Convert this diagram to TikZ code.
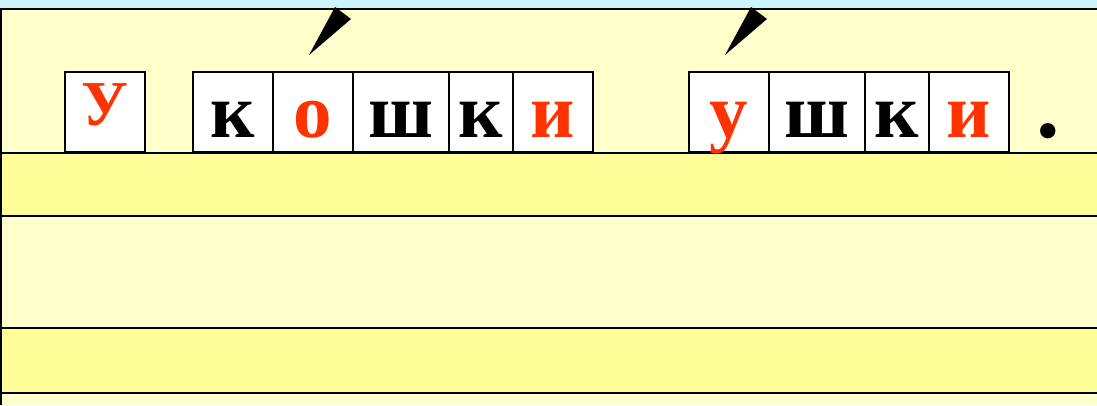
\documentclass[tikz,border=0pt]{standalone}
\usepackage{fontspec}
\setmainfont{Liberation Serif}
\definecolor{skyband}{HTML}{CCF5FF}
\definecolor{paleyel}{HTML}{FFFFCC}
\definecolor{deepyel}{HTML}{FFFF99}
\definecolor{redlet}{HTML}{FF3300}
\begin{document}
\begin{tikzpicture}[x=1pt,y=-1pt,
  rule/.style={line width=2pt,black},
  cell/.style={draw=black,line width=2pt,fill=white,rectangle,inner sep=0pt,minimum height=80pt,anchor=south west},
  big/.style={font=\bfseries\fontsize{77}{77}\selectfont,inner sep=0pt,anchor=base},
  redl/.style={big,text=redlet},
  blackl/.style={big,text=black},
  stress/.style={fill=black,draw=none}]
\useasboundingbox (0,0) rectangle (1097,405);
% backgrounds
\fill[skyband] (0,0) rectangle (1097,9);
\fill[paleyel] (0,9) rectangle (1097,405);
\fill[deepyel] (0,153) rectangle (1097,216);
\fill[deepyel] (0,328) rectangle (1097,393);
% stress marks
\fill[stress] (309,55) -- (335,7) -- (351,19) -- cycle;
\fill[stress] (725,55) -- (751,7) -- (767,19) -- cycle;
% rules
\draw[rule] (0,9) -- (1097,9);
\draw[rule] (1,9) -- (1,405);
\draw[rule] (0,153) -- (1097,153);
\draw[rule] (0,216) -- (1097,216);
\draw[rule] (0,328) -- (1097,328);
\draw[rule] (0,393) -- (1097,393);
% cells
\node[cell,minimum width=80pt] (b1) at (64,153) {};
\node[cell,minimum width=80pt] (b2) at (192,153) {};
\node[cell,minimum width=80pt] (b3) at (272,153) {};
\node[cell,minimum width=96pt] (b4) at (352,153) {};
\node[cell,minimum width=64pt] (b5) at (448,153) {};
\node[cell,minimum width=80pt] (b6) at (512,153) {};
\node[cell,minimum width=80pt] (b7) at (688,153) {};
\node[cell,minimum width=96pt] (b8) at (768,153) {};
\node[cell,minimum width=64pt] (b9) at (864,153) {};
\node[cell,minimum width=80pt] (b10) at (928,153) {};
% letters
\coordinate (base) at (0,137);
\node[redl,font=\bfseries\fontsize{64}{64}\selectfont] (l1) at (b1.center |- 0,125) {У};
\node[blackl] (l2) at (b2.center |- base) {к};
\node[redl] (l3) at (b3.center |- base) {о};
\node[blackl] (l4) at (b4.center |- base) {ш};
\node[blackl] (l5) at (b5.center |- base) {к};
\node[redl] (l6) at (b6.center |- base) {и};
\node[redl] (l7) at (b7.center |- base) {у};
\node[blackl] (l8) at (b8.center |- base) {ш};
\node[blackl] (l9) at (b9.center |- base) {к};
\node[redl] (l10) at (b10.center |- base) {и};
\node[blackl,font=\bfseries\fontsize{94}{94}\selectfont] (dot) at (1048,137) {.};
\end{tikzpicture}
\end{document}
